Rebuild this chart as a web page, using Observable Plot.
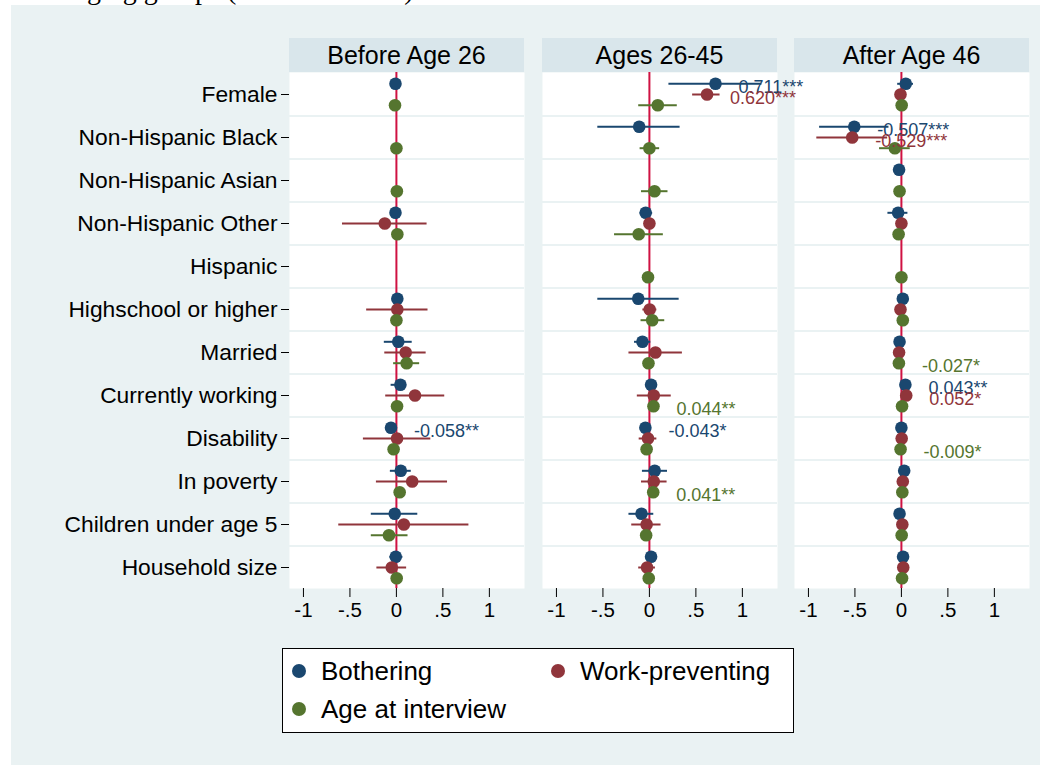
<!DOCTYPE html>
<html><head><meta charset="utf-8">
<script src="https://cdn.jsdelivr.net/npm/d3@7"></script>
<script src="https://cdn.jsdelivr.net/npm/@observablehq/plot@0.6"></script>
<style>
html,body{margin:0;padding:0;background:#fff;width:1052px;height:765px;overflow:hidden;font-family:Arial,"Liberation Sans",sans-serif;}
#page{position:relative;width:1052px;height:765px;overflow:hidden;}
#bg{position:absolute;left:11px;top:5px;width:1029px;height:760px;background:#EAF2F3;}
#cut{position:absolute;left:87px;top:-24px;font-family:"Liberation Serif","Times New Roman",serif;font-size:28px;line-height:28px;white-space:pre;color:#000;}
.hdr{position:absolute;top:38px;height:34px;width:235px;background:#D9E6EB;font-size:25px;line-height:34px;text-align:center;color:#000;}
.panel{position:absolute;top:72px;}
#legend{position:absolute;left:282px;top:648px;width:512px;height:85px;background:#fff;border:1px solid #000;box-sizing:border-box;}
.li{position:absolute;font-size:26px;line-height:30px;color:#000;white-space:nowrap;}
.ld{position:absolute;width:14px;height:14px;border-radius:50%;}
</style></head>
<body><div id="page"><div id="bg"></div><div id="cut">ging groups (                        )</div></div>
<script>
// ---- data ----
const categories = ["Female","Non-Hispanic Black","Non-Hispanic Asian","Non-Hispanic Other","Hispanic","Highschool or higher","Married","Currently working","Disability","In poverty","Children under age 5","Household size"];
const panels = ["Before Age 26","Ages 26-45","After Age 46"];
const seriesNames = ["Bothering","Work-preventing","Age at interview"];
const seriesColors = ["#1A476F","#90353B","#55752F"];
const xTicks = [-1,-0.5,0,0.5,1];
const xTickLabels = ["-1","-.5","0",".5","1"];

// Before Age 26
const p1BothCoef = [-0.01,null,null,-0.01,null,0.01,0.02,0.043,-0.058,0.047,-0.018,-0.007];
const p1BothLo   = [-0.03,null,null,-0.03,null,-0.01,-0.13,-0.057,-0.08,-0.065,-0.27,-0.07];
const p1BothHi   = [0.01,null,null,0.01,null,0.03,0.17,0.11,-0.036,0.16,0.23,0.07];
const p1BothLab  = ["","","","","","","","","-0.058**","","",""];
const p1WorkCoef = [null,null,null,-0.125,null,0.01,0.10,0.20,0.007,0.17,0.08,-0.05];
const p1WorkLo   = [null,null,null,-0.58,null,-0.32,-0.125,-0.115,-0.355,-0.215,-0.62,-0.21];
const p1WorkHi   = [null,null,null,0.33,null,0.34,0.32,0.52,0.37,0.55,0.78,0.11];
const p1WorkLab  = ["","","","","","","","","","","",""];
const p1AgeCoef  = [-0.015,0.0,0.005,0.01,null,0.0,0.11,0.007,-0.03,0.035,-0.08,0.003];
const p1AgeLo    = [-0.03,-0.015,-0.01,-0.005,null,-0.015,-0.03,-0.008,-0.045,0.02,-0.27,-0.012];
const p1AgeHi    = [0.0,0.015,0.02,0.025,null,0.015,0.25,0.022,-0.015,0.05,0.125,0.018];
const p1AgeLab   = ["","","","","","","","","","","",""];

// Ages 26-45
const p2BothCoef = [0.711,-0.11,null,-0.04,null,-0.12,-0.075,0.018,-0.043,0.057,-0.085,0.018];
const p2BothLo   = [0.21,-0.555,null,-0.10,null,-0.555,-0.16,0.0,-0.06,-0.075,-0.22,0.0];
const p2BothHi   = [1.21,0.33,null,0.035,null,0.32,0.015,0.036,-0.026,0.195,0.047,0.036];
const p2BothLab  = ["0.711***","","","","","","","","-0.043*","","",""];
const p2WorkCoef = [0.620,null,null,0.0,null,0.003,0.065,0.047,-0.015,0.047,-0.03,-0.025];
const p2WorkLo   = [0.465,null,null,-0.02,null,-0.07,-0.22,-0.13,-0.11,-0.085,-0.19,-0.115];
const p2WorkHi   = [0.76,null,null,0.02,null,0.08,0.355,0.235,0.08,0.19,0.125,0.065];
const p2WorkLab  = ["0.620***","","","","","","","","","","",""];
const p2AgeCoef  = [0.09,0.0,0.055,-0.115,-0.015,0.03,-0.01,0.044,-0.03,0.041,-0.035,-0.007];
const p2AgeLo    = [-0.115,-0.10,-0.085,-0.375,-0.03,-0.09,-0.025,0.024,-0.045,0.021,-0.05,-0.022];
const p2AgeHi    = [0.30,0.11,0.2,0.15,0.0,0.165,0.005,0.064,-0.015,0.061,-0.02,0.008];
const p2AgeLab   = ["","","","","","","","0.044**","","0.041**","",""];

// After Age 46
const p3BothCoef = [0.047,-0.507,-0.025,-0.035,null,0.015,-0.02,0.043,0.0,0.03,-0.02,0.018];
const p3BothLo   = [-0.04,-0.88,-0.04,-0.145,null,0.0,-0.035,0.028,-0.015,0.015,-0.035,0.003];
const p3BothHi   = [0.13,-0.134,-0.01,0.07,null,0.03,-0.005,0.058,0.015,0.045,-0.005,0.033];
const p3BothLab  = ["","-0.507***","","","","","","0.043**","","","",""];
const p3WorkCoef = [-0.01,-0.529,null,0.0,null,-0.01,-0.025,0.052,0.003,0.015,0.01,0.02];
const p3WorkLo   = [-0.025,-0.91,null,-0.015,null,-0.025,-0.04,0.037,-0.012,0.0,-0.005,0.005];
const p3WorkHi   = [0.005,-0.148,null,0.015,null,0.005,-0.01,0.067,0.018,0.03,0.025,0.035];
const p3WorkLab  = ["","-0.529***","","","","","","0.052*","","","",""];
const p3AgeCoef  = [0.003,-0.07,-0.02,-0.03,0.0,0.015,-0.027,0.007,-0.009,0.01,0.003,0.007];
const p3AgeLo    = [-0.012,-0.235,-0.035,-0.045,-0.015,0.0,-0.042,-0.008,-0.024,-0.005,-0.012,-0.008];
const p3AgeHi    = [0.018,0.095,-0.005,-0.015,0.015,0.03,-0.012,0.022,0.006,0.025,0.018,0.022];
const p3AgeLab   = ["","","","","","","-0.027*","","-0.009*","","",""];

// ---- assemble ----
const panelData = [
  [[p1BothCoef,p1BothLo,p1BothHi,p1BothLab],[p1WorkCoef,p1WorkLo,p1WorkHi,p1WorkLab],[p1AgeCoef,p1AgeLo,p1AgeHi,p1AgeLab]],
  [[p2BothCoef,p2BothLo,p2BothHi,p2BothLab],[p2WorkCoef,p2WorkLo,p2WorkHi,p2WorkLab],[p2AgeCoef,p2AgeLo,p2AgeHi,p2AgeLab]],
  [[p3BothCoef,p3BothLo,p3BothHi,p3BothLab],[p3WorkCoef,p3WorkLo,p3WorkHi,p3WorkLab],[p3AgeCoef,p3AgeLo,p3AgeHi,p3AgeLab]]
];

const page = document.getElementById("page");
const panelLefts = [289, 542, 794];
const panelW = 235, plotH = 516, mb = 50;
const xDomain = [-1.15, 1.378];
const offsets = [-10.7, 0, 10.7];
const gridDy = plotH / categories.length / 2;

panels.forEach((title, p) => {
  const hdr = document.createElement("div");
  hdr.className = "hdr";
  hdr.style.left = panelLefts[p] + "px";
  hdr.textContent = title;
  page.appendChild(hdr);

  const showY = p === 0;
  const ml = showY ? panelLefts[0] : 0;
  const marks = [
    Plot.frame({fill: "white", stroke: null}),
    Plot.ruleY(categories.slice(0, -1), {stroke: "#EAF2F3", strokeWidth: 2.2, dy: gridDy}),
    Plot.ruleX([0], {stroke: "#CF1242", strokeWidth: 2})
  ];
  panelData[p].forEach(([coef, lo, hi, lab], j) => {
    const rows = categories.map((c, i) => ({cat: c, coef: coef[i], lo: lo[i], hi: hi[i], label: lab[i]})).filter(d => d.coef != null);
    marks.push(Plot.ruleY(rows, {y: "cat", x1: "lo", x2: "hi", stroke: seriesColors[j], strokeWidth: 2, dy: offsets[j]}));
    marks.push(Plot.dot(rows, {y: "cat", x: "coef", r: 6.3, fill: seriesColors[j], stroke: null, dy: offsets[j]}));
  });
  panelData[p].forEach(([coef, lo, hi, lab], j) => {
    const rows = categories.map((c, i) => ({cat: c, coef: coef[i], label: lab[i]})).filter(d => d.coef != null && d.label);
    marks.push(Plot.text(rows, {y: "cat", x: "coef", text: "label", dx: 23, dy: offsets[j] + 3.5, textAnchor: "start", fill: seriesColors[j], fontSize: 18}));
  });
  marks.push(Plot.axisX({ticks: xTicks, tickFormat: (d) => xTickLabels[xTicks.indexOf(d)], tickSize: 9, tickPadding: 5, fontSize: 20.5, label: null, line: true}));
  if (showY) marks.push(Plot.axisY({tickSize: 8, tickPadding: 4, fontSize: 22.8, label: null, line: true}));

  const svg = Plot.plot({
    width: ml + panelW,
    height: plotH + mb,
    marginLeft: ml, marginRight: 0, marginTop: 0, marginBottom: mb,
    style: {fontFamily: "Arial, 'Liberation Sans', sans-serif", color: "#000", background: "transparent", overflow: "visible"},
    x: {domain: xDomain},
    y: {type: "point", domain: categories, padding: 0.5, axis: null},
    marks
  });
  const wrap = document.createElement("div");
  wrap.className = "panel";
  wrap.style.left = (panelLefts[p] - ml) + "px";
  wrap.style.zIndex = String(10 - p);
  wrap.appendChild(svg);
  page.appendChild(wrap);
});

// legend
const legend = document.createElement("div");
legend.id = "legend";
const legPos = [[16, 22], [275, 22], [16, 60]];
seriesNames.forEach((name, j) => {
  const [lx, cy] = legPos[j];
  const dot = document.createElement("div");
  dot.className = "ld";
  dot.style.background = seriesColors[j];
  dot.style.left = (lx - 7) + "px";
  dot.style.top = (cy - 7) + "px";
  legend.appendChild(dot);
  const t = document.createElement("div");
  t.className = "li";
  t.textContent = name;
  t.style.left = (lx + 22) + "px";
  t.style.top = (cy - 15) + "px";
  legend.appendChild(t);
});
page.appendChild(legend);
</script>
</body></html>
